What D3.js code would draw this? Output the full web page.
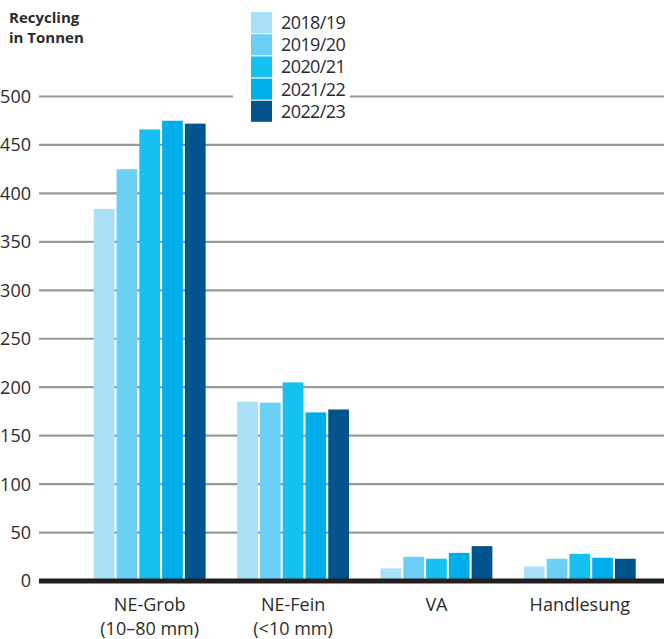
<!DOCTYPE html>
<html>
<head>
<meta charset="utf-8">
<script src="https://cdn.jsdelivr.net/npm/d3@7"></script>
<style>
  body { margin: 0; background: #fff; }
  svg text { fill: #2b2b2b; }
</style>
</head>
<body>
<svg id="chart" width="664" height="639"></svg>
<script>
// values
var categories = ["NE-Grob", "NE-Fein", "VA", "Handlesung"];
var subLabels = ["(10–80 mm)", "(<10 mm)", "", ""];
var years = ["2018/19", "2019/20", "2020/21", "2021/22", "2022/23"];
var colors = ["#a9dff9", "#6ccff5", "#16c0f1", "#00adeb", "#03538d"];
var values = [
    [384, 425, 466, 475, 472],   // NE-Grob
    [185, 184, 205, 174, 177],   // NE-Fein
    [13, 25, 23, 29, 36],        // VA
    [15, 23, 28, 24, 23]         // Handlesung
];
var yTicks = [0, 50, 100, 150, 200, 250, 300, 350, 400, 450, 500];

var narrow = "'Ubuntu Condensed', 'Liberation Sans Narrow', 'Arial Narrow', 'Open Sans', sans-serif";

var svg = d3.select("#chart");

var y = d3.scaleLinear().domain([0, 500]).range([581, 96.5]);
var x0 = d3.scaleBand().domain(categories).range([78, 651.5])
    .paddingInner(0.22).paddingOuter(0.11);
var x1 = d3.scaleBand().domain(years).range([0, x0.bandwidth()]).paddingInner(0.09);
var color = d3.scaleOrdinal().domain(years).range(colors);

// gridlines + tick labels
var grid = svg.append("g");
grid.selectAll("line")
    .data(yTicks.filter(d => d > 0))
    .join("line")
    .attr("x1", 39).attr("x2", 664)
    .attr("y1", d => y(d)).attr("y2", d => y(d))
    .attr("stroke", "#98989c")
    .attr("stroke-width", 2.2);

grid.selectAll("text")
    .data(yTicks)
    .join("text")
    .attr("x", 31)
    .attr("y", d => y(d))
    .attr("dy", "0.36em")
    .attr("text-anchor", "end")
    .attr("font-family", narrow)
    .attr("font-size", 18)
    .text(d => d);

// bars
var groups = svg.append("g")
    .selectAll("g")
    .data(categories)
    .join("g")
    .attr("transform", d => `translate(${x0(d)},0)`);

groups.selectAll("rect")
    .data((d, i) => values[i].map((v, j) => ({ year: years[j], value: v })))
    .join("rect")
    .attr("x", d => x1(d.year))
    .attr("width", x1.bandwidth())
    .attr("y", d => y(d.value))
    .attr("height", d => y(0) - y(d.value))
    .attr("fill", d => color(d.year));

// baseline
svg.append("line")
    .attr("x1", 39).attr("x2", 664)
    .attr("y1", y(0)).attr("y2", y(0))
    .attr("stroke", "#231f20")
    .attr("stroke-width", 5);

// category labels
var xl = svg.append("g")
    .attr("font-family", narrow)
    .attr("font-size", 18)
    .attr("text-anchor", "middle");
xl.selectAll("text.cat")
    .data(categories)
    .join("text")
    .attr("class", "cat")
    .attr("x", d => x0(d) + x0.bandwidth() / 2)
    .attr("y", 611)
    .text(d => d);
xl.selectAll("text.sub")
    .data(categories.map((c, i) => ({ c: c, s: subLabels[i] })).filter(d => d.s))
    .join("text")
    .attr("class", "sub")
    .attr("x", d => x0(d.c) + x0.bandwidth() / 2)
    .attr("y", 635)
    .text(d => d.s);

// title
var title = svg.append("text")
    .attr("font-family", "'Open Sans', 'DejaVu Sans', sans-serif")
    .attr("font-weight", "bold")
    .attr("font-size", 15)
    .attr("x", 9);
title.append("tspan").attr("x", 9).attr("y", 23).text("Recycling");
title.append("tspan").attr("x", 9).attr("y", 43).text("in Tonnen");

// legend (white box hides the 500 gridline behind it)
var legend = svg.append("g");
legend.append("rect")
    .attr("x", 233).attr("y", 8)
    .attr("width", 117).attr("height", 118)
    .attr("fill", "#fff");
var item = legend.selectAll("g")
    .data(years)
    .join("g")
    .attr("transform", (d, i) => `translate(251,${12 + i * 22.2})`);
item.append("rect")
    .attr("width", 21).attr("height", 21)
    .attr("fill", d => color(d));
item.append("text")
    .attr("x", 30)
    .attr("y", 10.5)
    .attr("dy", "0.36em")
    .attr("font-family", narrow)
    .attr("font-size", 18)
    .attr("letter-spacing", -0.6)
    .text(d => d);
</script>
</body>
</html>
